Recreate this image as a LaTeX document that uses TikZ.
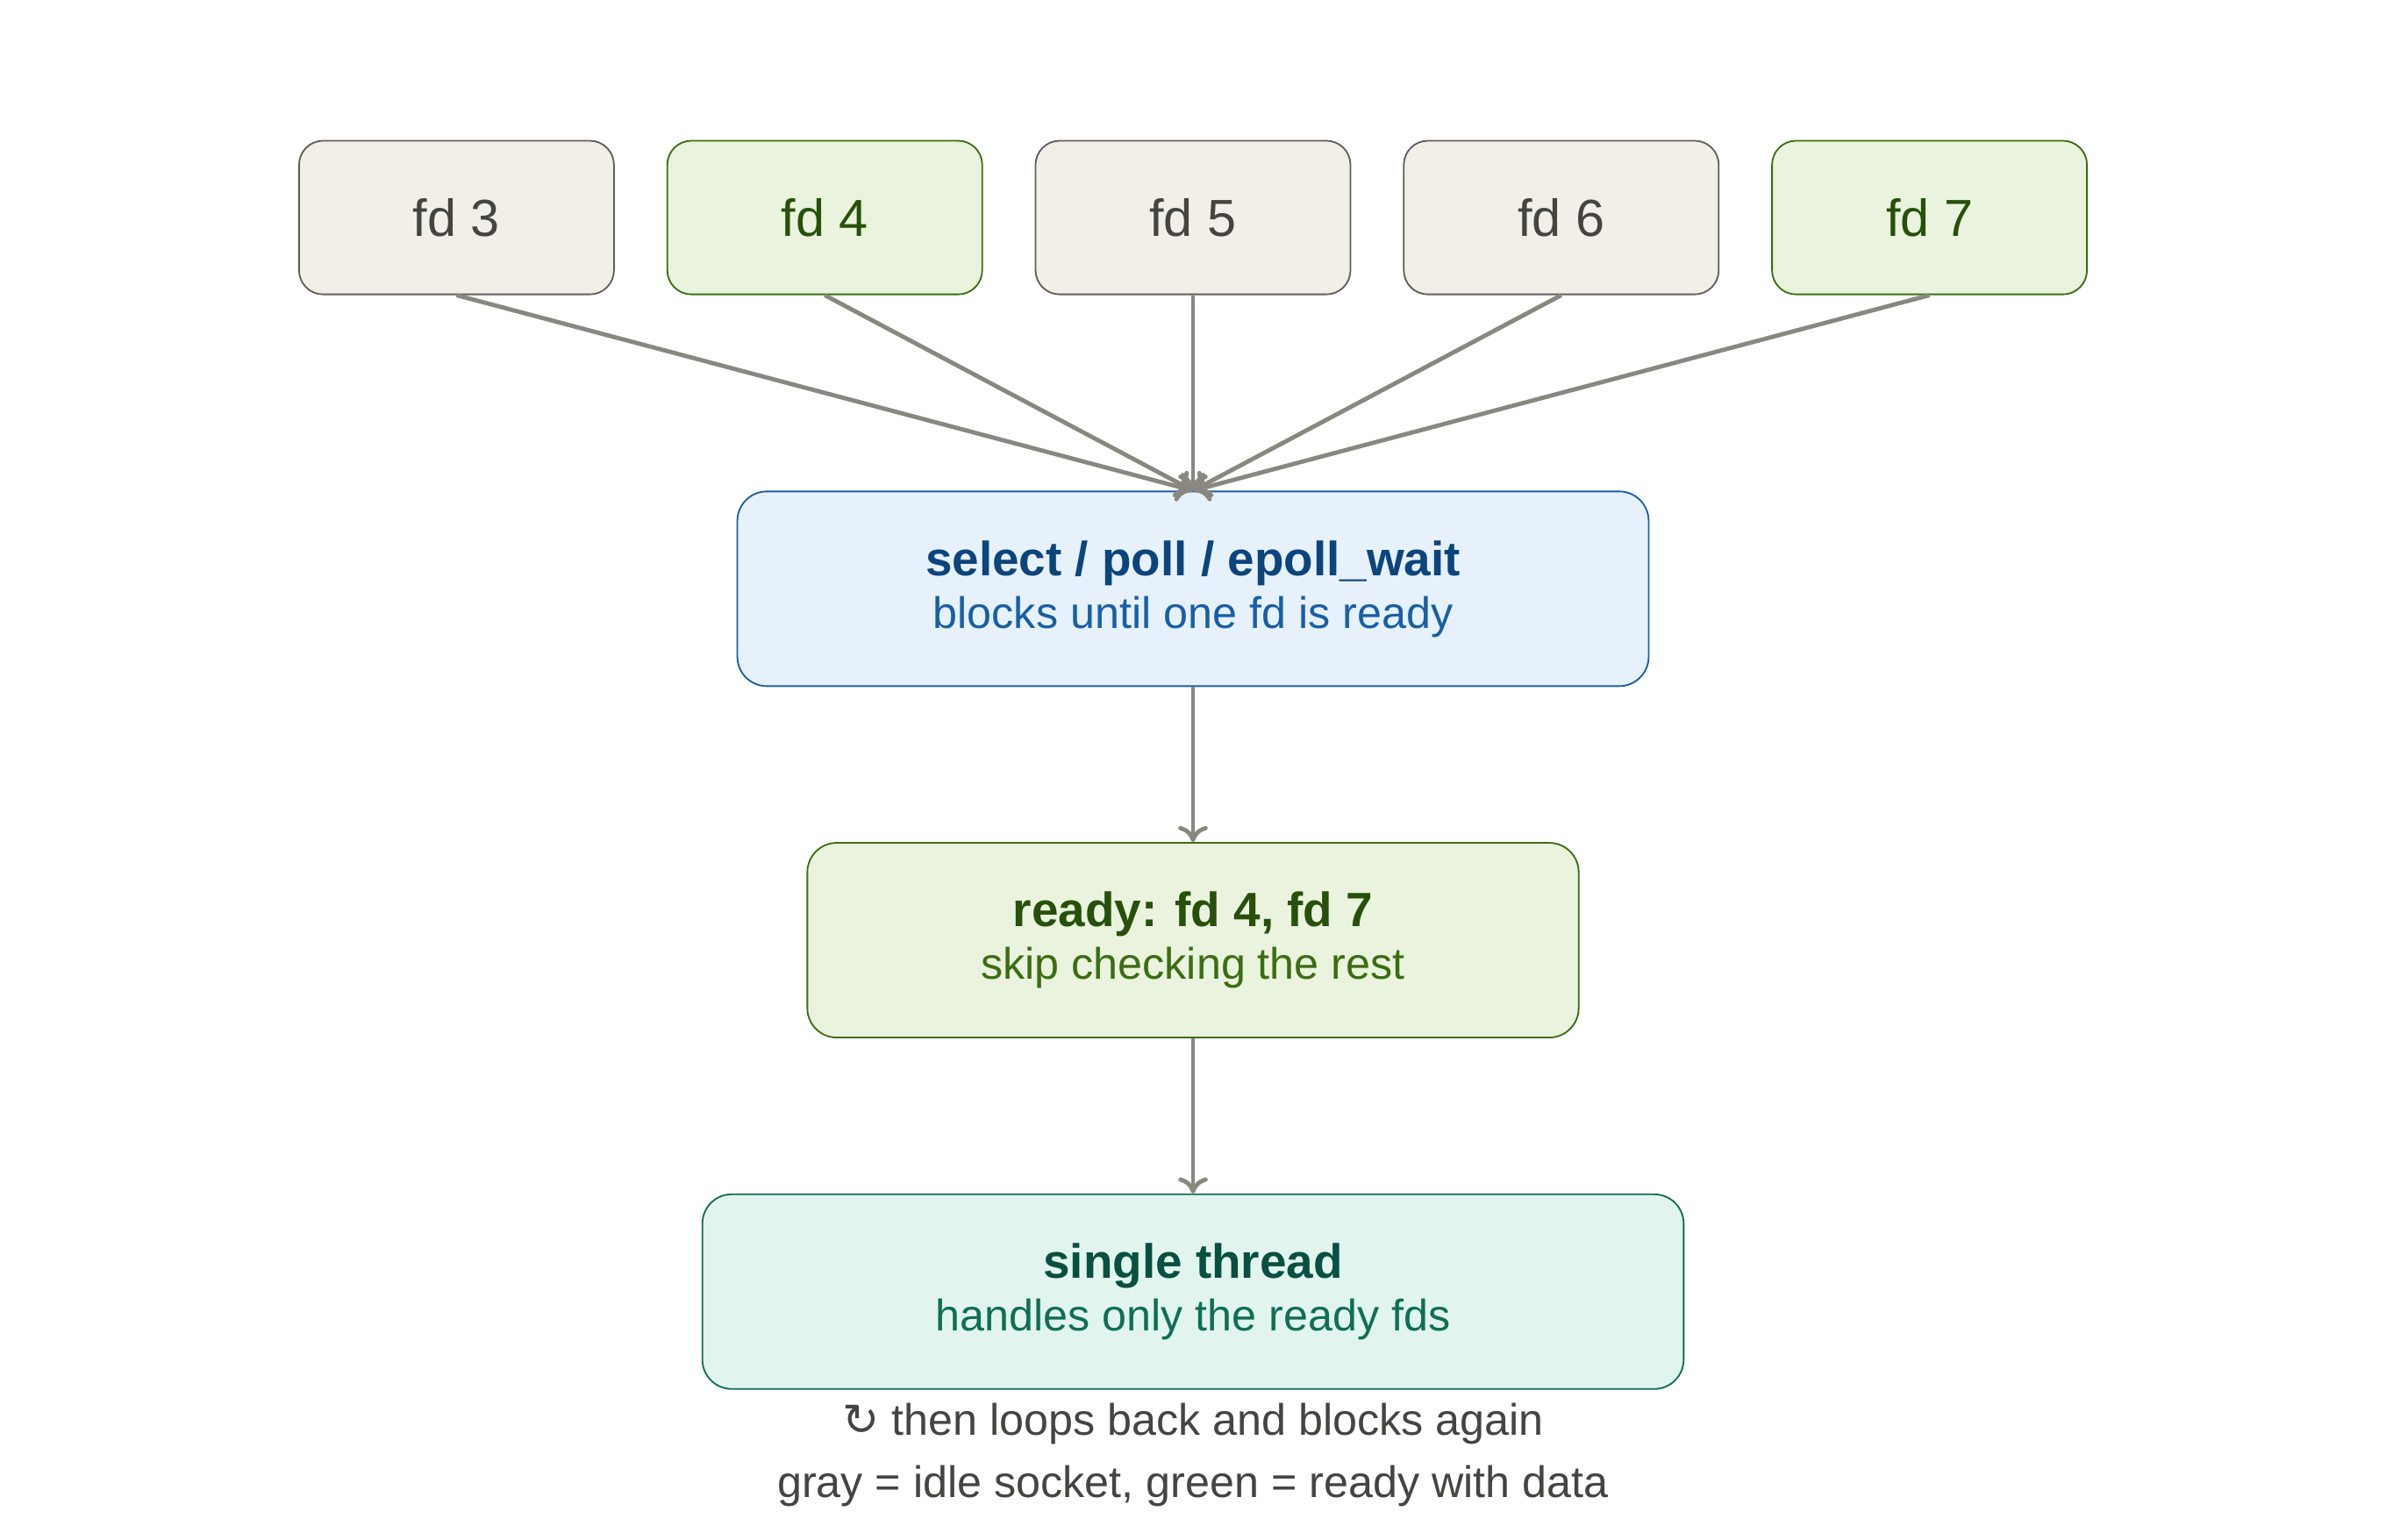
\documentclass[tikz,border=0pt]{standalone}
\usepackage{fontspec}
\setmainfont{Liberation Sans}
\newfontfamily\symfont{DejaVu Sans}
\usetikzlibrary{arrows.meta}
\definecolor{grayfill}{HTML}{F1EFE8}
\definecolor{grayline}{HTML}{5F5E5A}
\definecolor{graytext}{HTML}{444441}
\definecolor{greenfill}{HTML}{EAF3DE}
\definecolor{greenline}{HTML}{3B6D11}
\definecolor{greentext}{HTML}{27500A}
\definecolor{bluefill}{HTML}{E6F1FB}
\definecolor{blueline}{HTML}{185FA5}
\definecolor{bluetext}{HTML}{0C447C}
\definecolor{tealfill}{HTML}{E1F5EE}
\definecolor{tealline}{HTML}{0F6E56}
\definecolor{tealtext}{HTML}{085041}
\definecolor{arrowgray}{HTML}{888780}
\begin{document}
\begin{tikzpicture}[x=0.02cm, y=-0.02cm]
    \tikzset{fdbox/.style={rectangle, rounded corners=9pt, draw=grayline, fill=grayfill, text=graytext, line width=0.6pt, minimum width=4.14cm, minimum height=2.02cm, font=\fontsize{19.5}{23}\selectfont}}
    \tikzset{fdready/.style={fdbox, draw=greenline, fill=greenfill, text=greentext}}
    \tikzset{stage/.style={rectangle, rounded corners=11pt, draw, line width=0.6pt, minimum height=2.56cm, align=center}}
    \tikzset{flow/.style={draw=arrowgray, line width=1.6pt, -{To[length=6pt, width=11pt]}}}
    \useasboundingbox (0,0) rectangle (1568,1012);

    % Sockets
    \node[fdbox] (fd3) at (300,143) {fd 3};
    \node[fdready] (fd4) at (542,143) {fd 4};
    \node[fdbox] (fd5) at (784,143) {fd 5};
    \node[fdbox] (fd6) at (1026,143) {fd 6};
    \node[fdready] (fd7) at (1268,143) {fd 7};

    % Stages
    \node[stage, draw=blueline, fill=bluefill, minimum width=11.98cm] (wait) at (784,387)
        {\textcolor{bluetext}{\fontsize{18}{24}\selectfont\bfseries select / poll / epoll\_wait}\\[3pt]
         \textcolor{blueline}{\fontsize{16.5}{18}\selectfont blocks until one fd is ready}};
    \node[stage, draw=greenline, fill=greenfill, minimum width=10.14cm] (ready) at (784,618)
        {\textcolor{greentext}{\fontsize{18}{24}\selectfont\bfseries ready: fd 4, fd 7}\\[3pt]
         \textcolor{greenline}{\fontsize{16.5}{18}\selectfont skip checking the rest}};
    \node[stage, draw=tealline, fill=tealfill, minimum width=12.9cm] (thread) at (784,849)
        {\textcolor{tealtext}{\fontsize{18}{24}\selectfont\bfseries single thread}\\[3pt]
         \textcolor{tealline}{\fontsize{16.5}{18}\selectfont handles only the ready fds}};

    % Notes
    \node[text=graytext, font=\fontsize{16.5}{20}\selectfont] (loop) at (784,936) {{\symfont ↻} then loops back and blocks again};
    \node[text=graytext, font=\fontsize{16.5}{20}\selectfont] (legend) at (784,977) {gray = idle socket, green = ready with data};

    % Arrows
    \foreach \s in {fd3,fd4,fd5,fd6,fd7} {
        \draw[flow] (\s.south) -- (wait.north);
    }
    \draw[flow] (wait) -- (ready);
    \draw[flow] (ready) -- (thread);
\end{tikzpicture}
\end{document}
